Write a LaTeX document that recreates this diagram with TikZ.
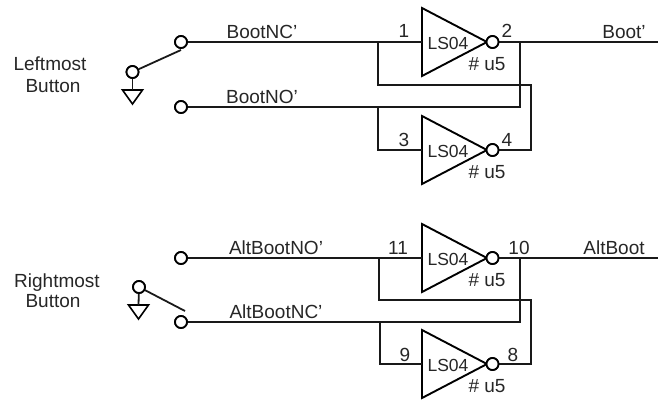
\documentclass[tikz,border=0pt]{standalone}
\usepackage{fontspec}
\setmainfont{Liberation Sans}
\usetikzlibrary{shapes.geometric}
\tikzset{
	wire/.style={line width=1.8pt, color=black!90},
	term/.style={circle, draw, fill=white, line width=1.8pt, inner sep=0pt, minimum size=12pt},
	gate/.style={isosceles triangle, isosceles triangle stretches, draw, line width=1.9pt, inner sep=0pt, outer sep=0pt, minimum width=68pt, minimum height=65pt, anchor=lower side},
	gnd/.style={isosceles triangle, isosceles triangle stretches, shape border rotate=270, draw, line width=1.6pt, inner sep=0pt, outer sep=0pt, minimum width=20pt, minimum height=14pt, anchor=lower side},
	lab/.style={anchor=base, inner sep=0pt, text=black!85, font=\fontsize{19}{23}\selectfont},
	chip/.style={lab, font=\fontsize{17.5}{21}\selectfont},
}

\begin{document}
\begin{tikzpicture}[x=1pt, y=-1pt]
	\useasboundingbox (0,0) rectangle (661,402);

	% inverters
	\foreach \g/\y/\a/\xa/\b/\xb/\ya in {u1/42/1/404/2/507/37, u2/150/3/404/4/507/146, u3/258/11/398/10/519/254, u4/364/9/405/8/513/361}
	{
		\node[gate] (\g) at (422,\y) {};
		\node[term] (\g b) at (492.5,\y) {};
		\node[chip] (\g t) at (448,\y+7) {LS04};
		\node[lab] (\g n) at (487,\y+28) {\# u5};
		\node[lab] (\g i) at (\xa,\ya) {\a};
		\node[lab] (\g o) at (\xb,\ya) {\b};
	}

	% top switch
	\node[term] (nc1) at (181,42) {};
	\node[term] (no1) at (181,107) {};
	\node[term] (sw1) at (132.5,72) {};
	\node[gnd] (gnd1) at (132.5,90) {};
	\coordinate (lv1) at (181,50);
	\draw[wire] (sw1) -- (lv1);
	\draw[wire] (sw1) -- (gnd1.lower side);

	% bottom switch
	\node[term] (no2) at (181,258) {};
	\node[term] (nc2) at (181,322) {};
	\node[term] (sw2) at (139,287) {};
	\node[gnd] (gnd2) at (138.5,305) {};
	\coordinate (lv2) at (185,311);
	\draw[wire] (sw2) -- (lv2);
	\draw[wire] (sw2) -- (gnd2.lower side);

	% top pair
	\coordinate (j1) at (378,42);
	\coordinate (j2) at (520,42);
	\coordinate (j3) at (378,107);
	\coordinate (c1) at (531,85);
	\coordinate (o1) at (658,42);
	\draw[wire] (nc1) -- (u1.lower side);
	\draw[wire] (u1b) -- (o1);
	\draw[wire] (j1) |- (c1) |- (u2b);
	\draw[wire] (no1) -| (j2);
	\draw[wire] (j3) |- (u2.lower side);

	% bottom pair
	\coordinate (j4) at (379,258);
	\coordinate (j5) at (520,258);
	\coordinate (j6) at (380,322);
	\coordinate (c2) at (531,300);
	\coordinate (o2) at (658,258);
	\draw[wire] (no2) -- (u3.lower side);
	\draw[wire] (u3b) -- (o2);
	\draw[wire] (j4) |- (c2) |- (u4b);
	\draw[wire] (nc2) -| (j5);
	\draw[wire] (j6) |- (u4.lower side);

	% redraw the circles over the wires
	\foreach \t in {nc1, no1, sw1, no2, nc2, sw2, u1b, u2b, u3b, u4b}
		\node[term] at (\t) {};

	\node[lab] (bnc) at (262,38) {BootNC'};
	\node[lab] (bno) at (262,103) {BootNO'};
	\node[lab] (bt) at (624,38) {Boot'};
	\node[lab] (anc) at (276,318) {AltBootNC'};
	\node[lab] (ano) at (276,254) {AltBootNO'};
	\node[lab] (abt) at (614,254) {AltBoot};
	\node[lab] (lb1) at (50,70) {Leftmost};
	\node[lab] (lb2) at (53,92) {Button};
	\node[lab] (rb1) at (57,287) {Rightmost};
	\node[lab] (rb2) at (53,307) {Button};
\end{tikzpicture}
\end{document}
